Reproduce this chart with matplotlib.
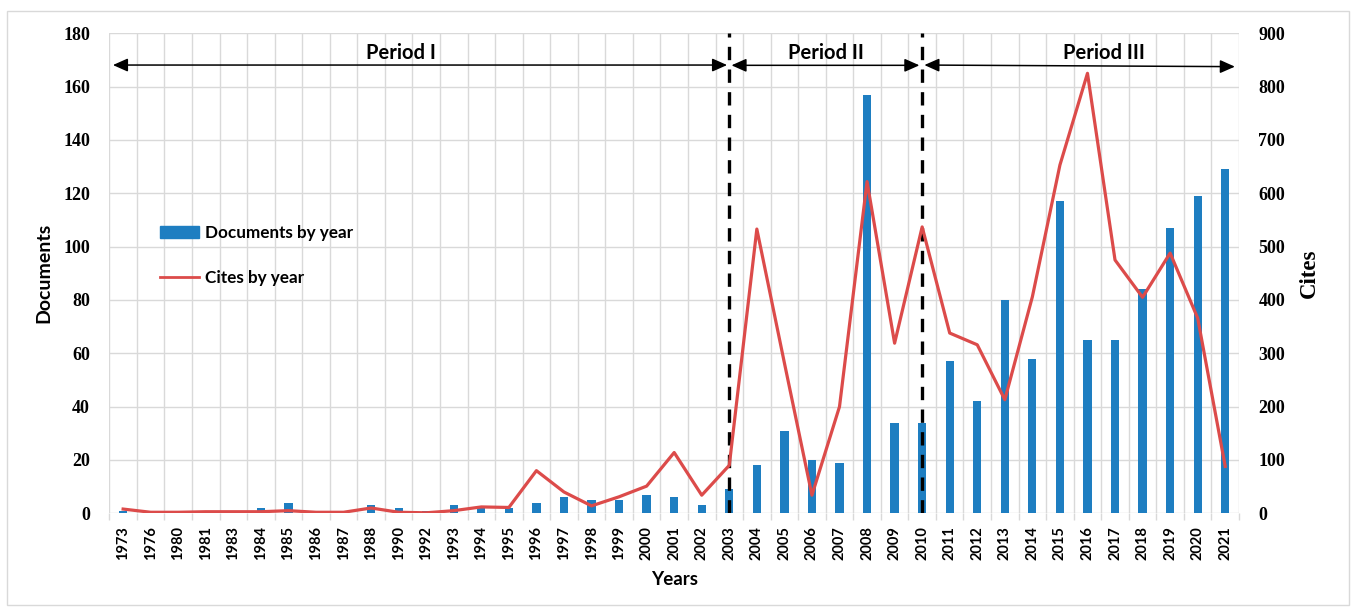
import matplotlib
matplotlib.use("Agg")
import matplotlib.pyplot as plt
from matplotlib.patches import Rectangle
from matplotlib.lines import Line2D
from matplotlib.patches import Patch

# data
years = ['1973', '1976', '1980', '1981', '1983', '1984', '1985', '1986', '1987', '1988',
         '1990', '1992', '1993', '1994', '1995', '1996', '1997', '1998', '1999', '2000',
         '2001', '2002', '2003', '2004', '2005', '2006', '2007', '2008', '2009', '2010',
         '2011', '2012', '2013', '2014', '2015', '2016', '2017', '2018', '2019', '2020', '2021']
documents = [1, 1, 1, 1, 1, 2, 4, 1, 1, 3,
             2, 1, 3, 2, 2, 4, 6, 5, 5, 7,
             6, 3, 9, 18, 31, 20, 19, 157, 34, 34,
             57, 42, 80, 58, 117, 65, 65, 84, 107, 119, 129]
cites = [8, 2, 2, 3, 3, 3, 5, 2, 2, 10,
         2, 1, 5, 12, 11, 80, 40, 14, 31, 51,
         114, 34, 90, 533, 282, 34, 200, 622, 319, 537,
         338, 316, 213, 406, 653, 825, 475, 405, 488, 366, 88]
period_names = ['Period I', 'Period II', 'Period III']
period_breaks = ['2003', '2010']

bar_color = '#1e7ec1'
line_color = '#dc4b4a'
grid_color = '#d9d9d9'
sans = 'Lato'
serif = 'Liberation Serif'

fig = plt.figure(figsize=(13.55, 6.09), dpi=100)
ax = fig.add_axes([0.0807, 0.1571, 0.8337, 0.7882])
ax2 = ax.twinx()

x = list(range(len(years)))
ax.bar(x, documents, width=0.3, color=bar_color, zorder=2)
ax2.plot(x, cites, color=line_color, lw=2.3, zorder=3)

ax.set_xlim(-0.5, len(years) - 0.5)
ax.set_ylim(0, 180)
ax2.set_ylim(0, 900)
ax.set_yticks(range(0, 181, 20))
ax2.set_yticks(range(0, 901, 100))

# category labels in the middle, grid/ticks on the borders
ax.set_xticks(x)
ax.set_xticklabels(years, rotation=90, fontfamily=sans, fontweight='bold', fontsize=10.5)
ax.set_xticks([i - 0.5 for i in range(len(years) + 1)], minor=True)
ax.tick_params(axis='x', which='major', length=0, pad=9)
ax.tick_params(axis='x', which='minor', length=5, color=grid_color, width=1)
ax.tick_params(axis='y', length=0, pad=14)
ax2.tick_params(axis='y', length=0, pad=14)
for lab in ax.get_yticklabels() + ax2.get_yticklabels():
    lab.set_fontfamily(serif)
    lab.set_fontweight('bold')
    lab.set_fontsize(13)

ax.grid(True, which='minor', axis='x', color=grid_color, lw=1)
ax.grid(True, which='major', axis='y', color=grid_color, lw=1)
ax.set_axisbelow(True)
for a in (ax, ax2):
    for s in a.spines.values():
        s.set_visible(False)

ax.set_xlabel('Years', fontfamily=sans, fontweight='bold', fontsize=13.5, labelpad=8)
ax.set_ylabel('Documents', fontfamily=sans, fontweight='bold', fontsize=14, labelpad=8)
ax2.set_ylabel('Cites', fontfamily=serif, fontweight='bold', fontsize=16.5, labelpad=10)

# period separators
b1 = years.index(period_breaks[0])
b2 = years.index(period_breaks[1])
for b in (b1, b2):
    ax.axvline(b, color='black', lw=2.4, ls=(0, (4, 2.8)), zorder=5)

# period arrows and names
arrow_style = dict(arrowstyle='<|-|>,head_length=0.45,head_width=0.2', color='black',
                   lw=1.1, mutation_scale=20, shrinkA=0, shrinkB=0)
spans = [(-0.37, b1 - 0.08, 168.1, 168.1),
         (b1 + 0.08, b2 - 0.1, 168.0, 168.0),
         (b2 + 0.08, len(years) - 0.65, 168.1, 167.5)]
label_x = [10.1, 25.5, 35.6]
for (x0, x1, y0, y1), name, lx in zip(spans, period_names, label_x):
    ax.annotate('', xy=(x1, y1), xytext=(x0, y0), arrowprops=arrow_style, zorder=6)
    ax.text(lx, 172.8, name, ha='center', va='center',
            fontfamily=sans, fontweight='bold', fontsize=14.5)

handles = [Patch(color=bar_color), Line2D([], [], color=line_color, lw=2)]
ax2.legend(handles, ['Documents by year', 'Cites by year'], loc='upper left',
           bbox_to_anchor=(0.045, 0.6), frameon=False, borderpad=0, borderaxespad=0,
           handlelength=2.3, handletextpad=0.3, labelspacing=1.65,
           prop={'family': sans, 'weight': 'bold', 'size': 12.3})

# light frame around the whole chart
fig.patches.append(Rectangle((7 / 1355, 4 / 609), 1342 / 1355, 594 / 609,
                             transform=fig.transFigure, fill=False, ec=grid_color, lw=1))

fig.savefig('out.png', dpi=100)
